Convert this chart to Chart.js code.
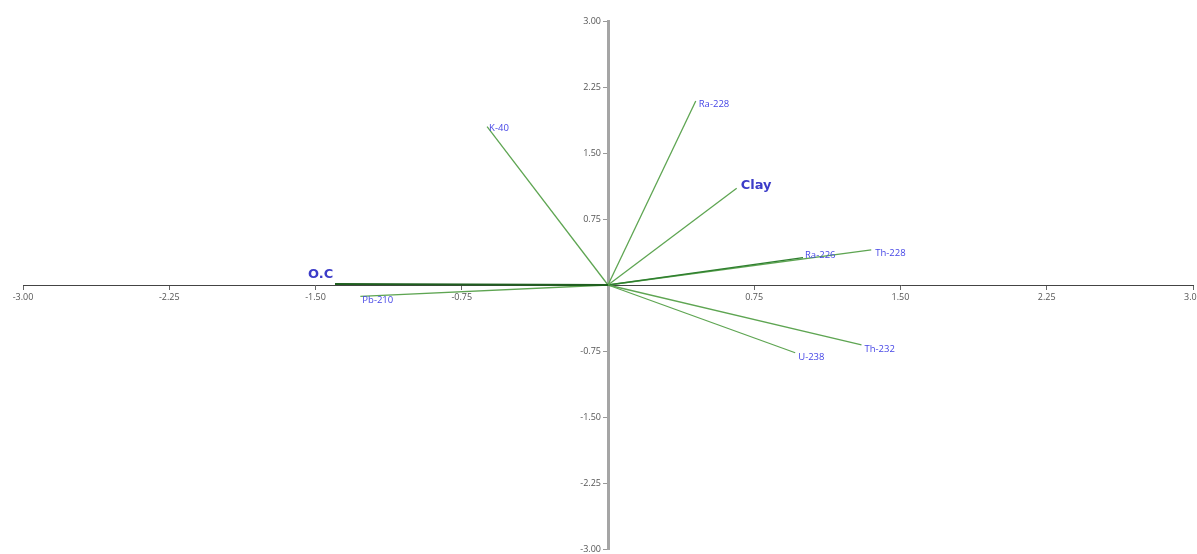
<!DOCTYPE html>
<html>
<head>
<meta charset="utf-8">
<script src="https://cdn.jsdelivr.net/npm/chart.js@4/dist/chart.umd.min.js"></script>
<style>
  html, body { margin: 0; padding: 0; background: #ffffff; }
  #wrap { width: 1197px; height: 554px; position: relative; }
</style>
</head>
<body>
<div id="wrap"><canvas id="c"></canvas></div>
<script>
// ---- Data ----
const variables = ['O.C', 'Pb-210', 'K-40', 'Ra-228', 'Clay', 'Ra-226', 'Th-228', 'Th-232', 'U-238'];
const loadingX  = [-1.40, -1.27, -0.62, 0.45, 0.66, 1.00, 1.35, 1.30, 0.96];
const loadingY  = [0.01, -0.13, 1.80, 2.09, 1.10, 0.31, 0.40, -0.68, -0.77];
const tickValues = [-3.00, -2.25, -1.50, -0.75, 0.00, 0.75, 1.50, 2.25, 3.00];

// ---- Styles (not data) ----
const bigLabels = { 'O.C': true, 'Clay': true };
const labelStyle = {
  'O.C':    { dx: -27, dy: -9, color: '#3c3cc8' },
  'Pb-210': { dx: 2,  dy: 4,  color: '#4646e6' },
  'K-40':   { dx: 2,  dy: 2,  color: '#4646e6' },
  'Ra-228': { dx: 3,  dy: 3,  color: '#4646e6' },
  'Clay':   { dx: 4,  dy: -3, color: '#3c3cc8' },
  'Ra-226': { dx: 2,  dy: -2, color: '#4646e6' },
  'Th-228': { dx: 4,  dy: 3,  color: '#4646e6' },
  'Th-232': { dx: 3,  dy: 4,  color: '#4646e6' },
  'U-238':  { dx: 3,  dy: 5,  color: '#4646e6' }
};
const lineColor = {
  'O.C': '#1f5f1f',
  'Ra-226': '#2f7f2f'
};

const datasets = variables.map((name, i) => ({
  label: name,
  data: [{ x: 0, y: 0 }, { x: loadingX[i], y: loadingY[i] }],
  showLine: true,
  borderColor: lineColor[name] || '#5ea552',
  borderWidth: name === 'O.C' ? 2 : 1.3,
  pointRadius: 0,
  pointHoverRadius: 0,
  fill: false
}));

const fmt = v => Number(v).toFixed(2);

const customText = {
  id: 'customText',
  afterDraw(chart) {
    const ctx = chart.ctx;
    const xs = chart.scales.x, ys = chart.scales.y;
    const x0 = xs.getPixelForValue(0), y0 = ys.getPixelForValue(0);
    ctx.save();
    // tick labels
    ctx.fillStyle = '#555';
    ctx.font = '9px "Open Sans", sans-serif';
    ctx.textBaseline = 'middle';
    tickValues.forEach(v => {
      if (v === 0) return;
      ctx.textAlign = 'center';
      ctx.fillText(fmt(v), xs.getPixelForValue(v), y0 + 12);
      ctx.textAlign = 'right';
      ctx.fillText(fmt(v), x0 - 7, ys.getPixelForValue(v));
    });
    // vector labels
    variables.forEach((name, i) => {
      const px = xs.getPixelForValue(loadingX[i]);
      const py = ys.getPixelForValue(loadingY[i]);
      const st = labelStyle[name];
      ctx.fillStyle = st.color;
      ctx.textAlign = 'left';
      ctx.textBaseline = 'middle';
      ctx.font = bigLabels[name] ? 'bold 13px "DejaVu Sans", sans-serif' : '9.5px "Open Sans", sans-serif';
      ctx.fillText(name, px + st.dx, py + st.dy);
    });
    ctx.restore();
  }
};

new Chart(document.getElementById('c'), {
  type: 'scatter',
  data: { datasets },
  plugins: [customText],
  options: {
    responsive: true,
    maintainAspectRatio: false,
    animation: false,
    layout: { padding: { left: 23, right: 4, top: 21, bottom: 5 } },
    plugins: { legend: { display: false }, tooltip: { enabled: false } },
    scales: {
      x: {
        type: 'linear',
        min: -3, max: 3,
        position: { y: 0 },
        afterBuildTicks(scale) { scale.ticks = tickValues.map(v => ({ value: v })); },
        ticks: { display: false, autoSkip: false },
        grid: { drawOnChartArea: false, drawTicks: true, tickLength: 4, color: '#666' },
        border: { display: true, color: '#444', width: 1 }
      },
      y: {
        type: 'linear',
        min: -3, max: 3,
        position: { x: 0 },
        afterBuildTicks(scale) { scale.ticks = tickValues.map(v => ({ value: v })); },
        ticks: { display: false, autoSkip: false },
        grid: { drawOnChartArea: false, drawTicks: true, tickLength: 4, color: '#999' },
        border: { display: true, color: '#a5a5a5', width: 3 }
      }
    }
  }
});
</script>
</body>
</html>
